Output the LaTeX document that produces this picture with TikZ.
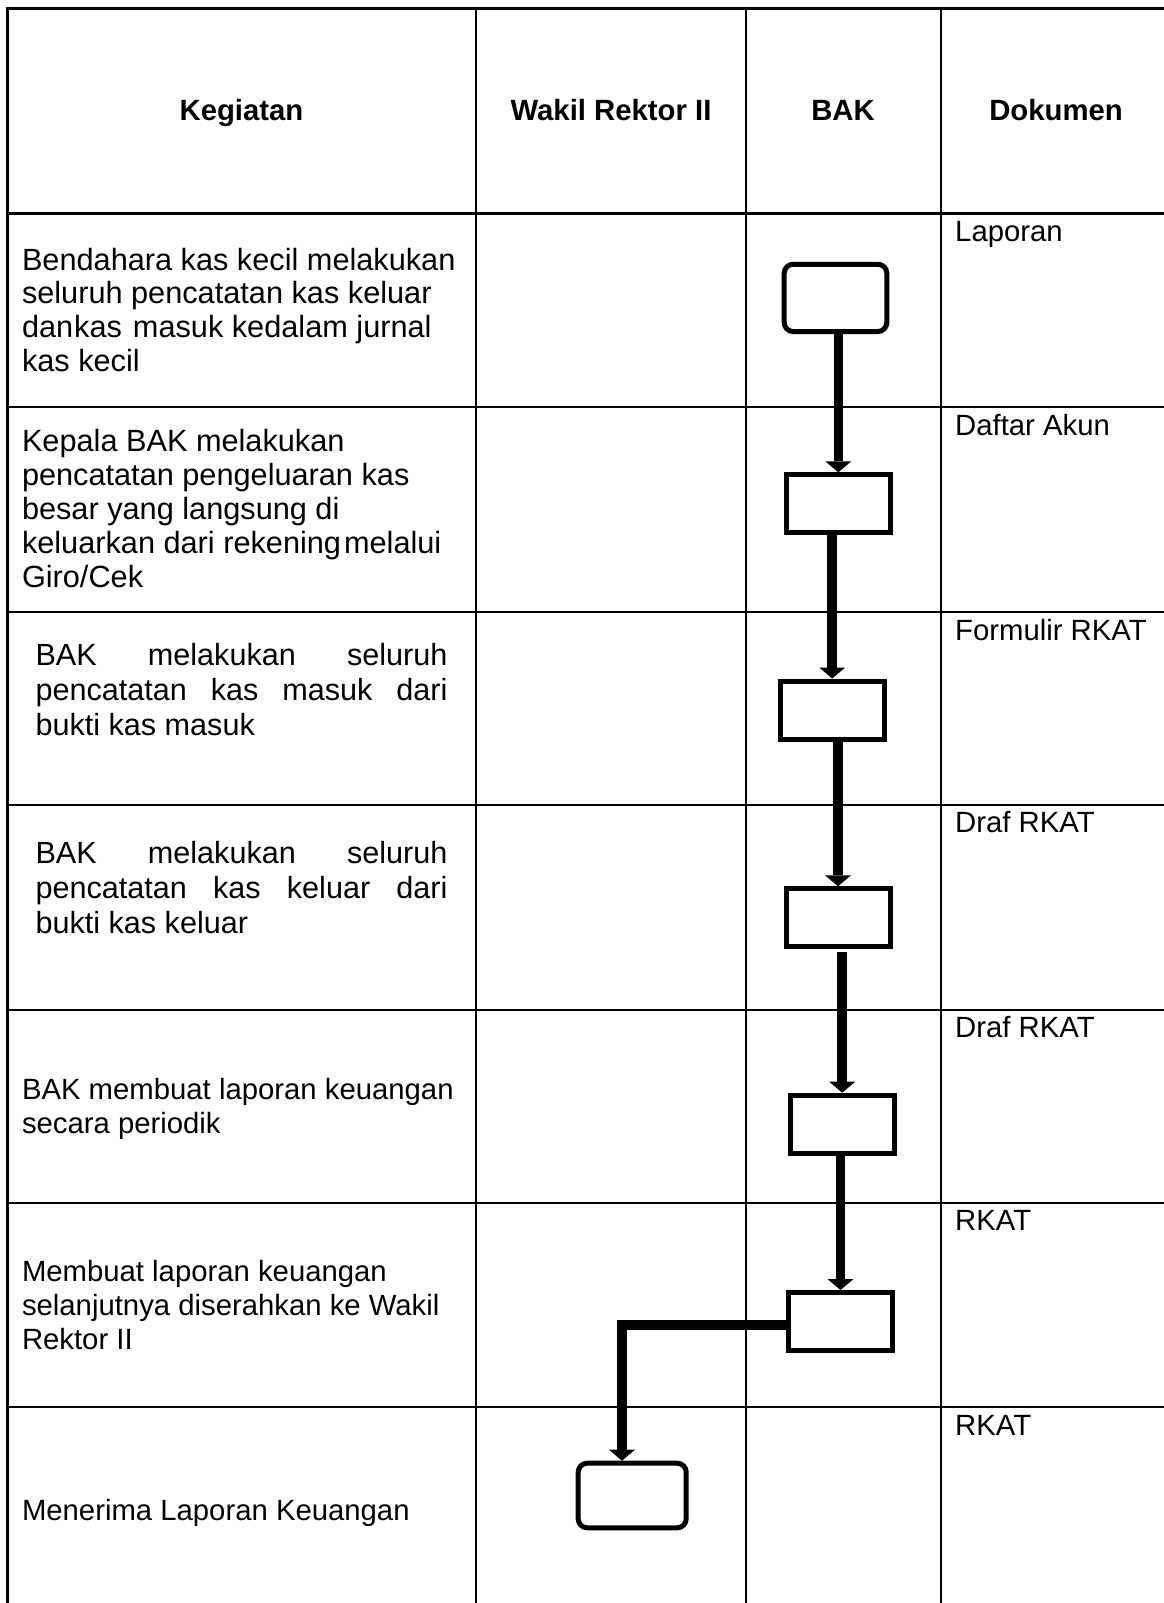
\documentclass[tikz,border=0pt]{standalone}
\usepackage{fontspec}
\setmainfont{Liberation Sans}
\usetikzlibrary{arrows.meta,calc}
\tikzset{
  outerline/.style={line width=3pt},
  innerline/.style={line width=2pt},
  headline/.style={line width=2.7pt},
  cell/.style={inner sep=0pt, outer sep=0pt, anchor=base west, font=\fontsize{29.3}{34}\selectfont},
  doclabel/.style={inner sep=0pt, anchor=base west, font=\fontsize{29.3}{34}\selectfont},
  headtext/.style={inner sep=0pt, anchor=base, font=\fontsize{29.3}{34}\selectfont\bfseries},
  stepbox/.style={draw, line width=5pt, minimum width=104pt, minimum height=58pt, inner sep=0pt},
  endbox/.style={stepbox, rounded corners=9pt},
  flow/.style={line width=9.5pt, -{Triangle[width=26pt,length=11pt,line width=0pt]}}
}
\begin{document}
\begin{tikzpicture}[x=1pt,y=-1pt]
\useasboundingbox (0,0) rectangle (1163,1603);
% table frame
\draw[outerline] (7.5,1603) -- (7.5,8.5) -- (1170,8.5);
\draw[headline] (7.5,213.5) -- (1170,213.5);
\foreach \yy in {407,612,805,1010,1203,1407}
  \draw[innerline] (7.5,\yy) -- (1170,\yy);
\foreach \xx in {476,746,941}
  \draw[innerline] (\xx,8.5) -- (\xx,1603);
% header
\node[headtext] (hkeg) at (241.5,120.7) {Kegiatan};
\node[headtext] (hwak) at (611,120.7) {Wakil Rektor II};
\node[headtext] (hbak) at (843,120.7) {BAK};
\node[headtext] (hdok) at (1056,120.7) {Dokumen};
% activities
\node[cell] (k1) at (22,270) {\parbox[t]{450pt}{\raggedright\fontsize{30.7}{33.8}\selectfont
  Bendahara kas kecil melakukan\\
  seluruh pencatatan kas keluar\\
  dan\hspace{1pt}kas\hspace{11pt}masuk kedalam jurnal\\
  kas kecil}};
\node[cell] (k2) at (22,451.7) {\parbox[t]{450pt}{\raggedright\fontsize{30.7}{34}\selectfont
  Kepala BAK melakukan\\
  pencatatan pengeluaran kas\\
  besar yang langsung di\\
  keluarkan dari rekening\hspace{3pt}melalui\\
  Giro/Cek}};
\node[cell] (k3) at (35.5,665) {\parbox[t]{420pt}{\raggedright\fontsize{30.6}{35}\selectfont
  \makebox[412pt][s]{BAK melakukan seluruh}\\
  \makebox[412pt][s]{pencatatan kas masuk dari}\\
  bukti kas masuk}};
\node[cell] (k4) at (35.5,863.3) {\parbox[t]{420pt}{\raggedright\fontsize{30.6}{35}\selectfont
  \makebox[412pt][s]{BAK melakukan seluruh}\\
  \makebox[412pt][s]{pencatatan kas keluar dari}\\
  bukti kas keluar}};
\node[cell] (k5) at (22,1099.3) {\parbox[t]{450pt}{\raggedright\fontsize{29.3}{34}\selectfont
  BAK membuat laporan keuangan\\
  secara periodik}};
\node[cell] (k6) at (22,1281.7) {\parbox[t]{450pt}{\raggedright\fontsize{29.3}{34}\selectfont
  Membuat laporan keuangan\\
  selanjutnya diserahkan ke Wakil\\
  Rektor II}};
\node[cell] (k7) at (22,1520) {Menerima Laporan Keuangan};
% documents
\node[doclabel] (d1) at (955,241.5) {Laporan};
\node[doclabel] (d2) at (955,435) {Daftar Akun};
\node[doclabel] (d3) at (955,640) {Formulir RKAT};
\node[doclabel] (d4) at (955,832.5) {Draf RKAT};
\node[doclabel] (d5) at (955,1037) {Draf RKAT};
\node[doclabel] (d6) at (955,1230.5) {RKAT};
\node[doclabel] (d7) at (955,1435) {RKAT};
% flow boxes
\node[endbox, minimum width=102.6pt, minimum height=67.3pt] (b1) at (835.5,297.9) {};
\node[stepbox] (b2) at (838.3,503.8) {};
\node[stepbox] (b3) at (832.2,710) {};
\node[stepbox] (b4) at (838,917.8) {};
\node[stepbox] (b5) at (842.2,1124.2) {};
\node[stepbox] (b6) at (840.5,1321.5) {};
\node[endbox, minimum width=108pt, minimum height=64.6pt] (b7) at (632.2,1495.5) {};
% connectors
\draw[flow] (b1.south -| b2.north) -- (b2.north);
\draw[flow] (b2.south -| b3.north) -- (b3.north);
\draw[flow] (b3.south -| b4.north) -- (b4.north);
\draw[flow, shorten <=3pt] (b4.south -| b5.north) -- (b5.north);
\draw[flow] (b5.south -| b6.north) -- (b6.north);
\coordinate (bend) at (622,1325);
\draw[flow] (b6.west |- bend) -- (bend) -- (bend |- b7.north);
\end{tikzpicture}
\end{document}
